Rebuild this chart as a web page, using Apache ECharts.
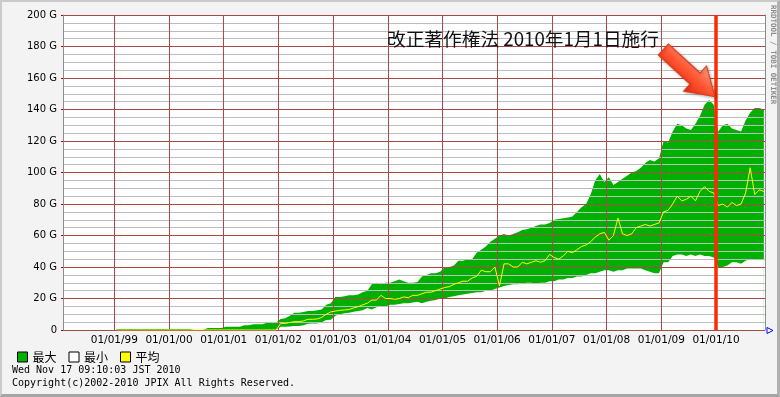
<!DOCTYPE html>
<html>
<head>
<meta charset="utf-8">
<script src="https://cdn.jsdelivr.net/npm/echarts@6/dist/echarts.min.js"></script>
<style>
  html, body { margin: 0; padding: 0; background: #f3f3f3; }
  #frame {
    box-sizing: border-box; width: 780px; height: 397px;
    border-top: 2px solid #cbcbcb; border-left: 2px solid #cbcbcb;
    border-right: 3px solid #b0b0b0; border-bottom: 3px solid #a4a4a4;
  }
  #chart { width: 775px; height: 392px; }
</style>
</head>
<body>
<div id="frame"><div id="chart"></div></div>
<script>
// 月ごとの値 (Gbps)、1999年1月から2010年11月まで
const firstYear = 1999;
const yearTicks = [1999, 2000, 2001, 2002, 2003, 2004, 2005, 2006, 2007, 2008, 2009, 2010];
const legendNames = ['最大', '最小', '平均'];

const maxG = [
  0.6, 0.6, 0.6, 0.6, 0.6, 0.6, 0.6, 0.6, 0.6, 0.6, 0.6, 0.6,     // 1999
  0.6, 0.6, 0.6, 0.6, 0.6, 0, 0, 0, 1.3, 1.3, 1.3, 1.3,           // 2000
  2, 2, 2, 2, 3, 3, 3.6, 3.6, 3.6, 4.6, 4.6, 4.8,                 // 2001
  7, 7.5, 9, 11, 11, 11.5, 12, 12, 12.5, 13, 16, 17,              // 2002
  21, 21, 21.5, 22, 22, 22.5, 24, 25, 29, 30, 29, 30,             // 2003
  30, 31, 32, 31, 30, 30, 30.5, 34, 35, 36, 36, 37,               // 2004
  40, 40, 41, 44, 44, 45, 45, 49, 51, 53, 56, 58,                 // 2005
  60, 61, 60, 61, 62, 63.5, 64, 65, 66, 67, 67, 68,               // 2006
  70, 70.5, 71, 71.5, 72, 75, 78, 80, 86, 95, 99, 94,             // 2007
  97, 92, 94, 96, 98, 100, 101, 103, 106, 108, 107, 109,          // 2008
  120, 119, 126, 131, 130, 128, 127, 131, 136, 143, 146, 143,     // 2009
  126, 130, 131, 128, 127, 126, 133, 138, 141, 141, 140           // 2010
];
const minG = [
  0, 0, 0, 0, 0, 0, 0, 0, 0, 0, 0, 0,                             // 1999
  0, 0, 0, 0, 0, 0, 0, 0, 0, 0, 0, 0,                             // 2000
  0, 0, 0, 0, 0, 0, 0, 0, 0, 0, 0, 0,                             // 2001
  2.1, 2.1, 2.3, 2.5, 2.5, 3, 4, 4.2, 4.2, 5, 6.3, 6.5,           // 2002
  9, 10, 10.6, 11, 11.6, 12, 12.5, 14, 13, 14.5, 15, 15,          // 2003
  16, 16, 16.5, 17, 17, 17.5, 18, 17, 18, 18.5, 19, 20,           // 2004
  20, 21, 21.5, 22, 22.5, 23, 23.5, 24, 24, 25, 25, 26,           // 2005
  27, 28, 28.5, 29, 29, 29.5, 30, 30, 29.5, 30, 30, 31,           // 2006
  31, 32, 32, 33, 33, 34, 34, 35, 36, 36, 37, 38,                 // 2007
  38, 37, 38, 38, 39, 39, 39, 39, 38, 37, 36, 36,                 // 2008
  43, 43, 47, 48, 48, 47, 48, 47, 48, 47, 47, 46,                 // 2009
  40, 40, 41, 43, 43, 42, 44, 45, 45, 45, 45                      // 2010
];
const avgG = [
  0, 0, 0, 0, 0, 0, 0, 0, 0, 0, 0, 0,                             // 1999
  0, 0, 0, 0, 0, 0, 0, 0, 0, 0, 0, 0,                             // 2000
  0, 0, 0, 0, 0, 0, 0, 0, 0, 0, 0, 0,                             // 2001
  4.2, 4.2, 4.8, 5.3, 5.3, 5.8, 6.8, 6.8, 7, 8, 10, 11.5,         // 2002
  12, 12.5, 12.7, 13, 14, 14.8, 16, 17, 19, 19, 22, 20,           // 2003
  20, 19.5, 20, 21, 20.5, 22, 22, 23, 24, 24, 25, 26,             // 2004
  27, 27.5, 29, 30, 31, 31, 33, 34, 38, 37, 37, 40,               // 2005
  28, 42, 42, 40, 40, 43, 42, 43, 44, 43, 44, 48,                 // 2006
  46, 45, 47, 50, 49, 51, 53, 54, 56, 59, 61, 62,                 // 2007
  57, 60, 71, 61, 60, 61, 65, 66, 67, 66, 67, 68,                 // 2008
  75, 76, 80, 85, 82, 83, 85, 82, 88, 91, 88, 87,                 // 2009
  79, 80, 78, 81, 79, 80, 87, 103, 86, 89, 88                     // 2010
];

// 各月の中央を小数の年で表す
const monthX = maxG.map((_, i) => firstYear + (i + 0.5) / 12);
const pairs = arr => arr.map((v, i) => [monthX[i], v]);

const chart = echarts.init(document.getElementById('chart'));
chart.setOption({
  animation: false,
  backgroundColor: '#f3f3f3',
  grid: { left: 61, right: 12, top: 13, bottom: 64, show: true, backgroundColor: '#ffffff', borderWidth: 0 },
  legend: {
    left: 10, top: 344,
    data: legendNames,
    icon: 'rect', itemWidth: 10, itemHeight: 10, itemGap: 12,
    textStyle: { fontFamily: '"Noto Sans CJK JP"', fontSize: 12, color: '#000' },
    itemStyle: { borderColor: '#000', borderWidth: 1 },
    lineStyle: { width: 0, opacity: 0 },
    selectedMode: false
  },
  xAxis: {
    type: 'value', min: 1998.062, max: 2010.896, z: 3,
    axisLine: { show: false },
    axisTick: { show: false, customValues: yearTicks },
    axisLabel: {
      customValues: yearTicks,
      formatter: v => '01/01/' + String(v).slice(2),
      color: '#000', fontFamily: 'DejaVu Sans', fontSize: 10.5, margin: 5
    },
    splitLine: { show: true, lineStyle: { color: '#aa4848', type: 'solid', width: 1 } }
  },
  yAxis: [{
    type: 'value', min: 0, max: 200, interval: 20, z: 3,
    axisLine: { show: true, lineStyle: { color: '#8c8c8c' } },
    axisTick: { show: true, length: 2, lineStyle: { color: '#a80000' } },
    axisLabel: {
      formatter: v => v === 0 ? '0' : v + ' G',
      color: '#000', fontFamily: 'DejaVu Sans', fontSize: 10, margin: 6
    },
    splitLine: { show: true, lineStyle: { color: '#aa4848', type: 'solid' } },
    minorTick: { show: false, splitNumber: 4 },
    minorSplitLine: { show: true, lineStyle: { color: '#bcbcbc', type: 'solid' } }
  }, {
    type: 'value', min: 0, max: 200, position: 'right', z: 3,
    axisLine: { show: true, lineStyle: { color: '#8c8c8c' } },
    axisTick: { show: false }, axisLabel: { show: false }, splitLine: { show: false }
  }],
  series: [
    {
      name: '最大', type: 'line', data: pairs(maxG), showSymbol: false, z: 1,
      lineStyle: { color: '#00b000', width: 0 },
      itemStyle: { color: '#00b000' },
      areaStyle: { color: '#00b000', opacity: 1 }
    },
    {
      name: '最小', type: 'line', data: pairs(minG), showSymbol: false, z: 1,
      lineStyle: { color: '#ffffff', width: 0 },
      itemStyle: { color: '#ffffff' },
      areaStyle: { color: '#ffffff', opacity: 1 }
    },
    {
      name: '平均', type: 'line', data: pairs(avgG), showSymbol: false, z: 4,
      lineStyle: { color: '#ffff00', width: 1 },
      itemStyle: { color: '#ffff00' },
      markLine: {
        silent: true, symbol: 'none', z: 5,
        label: { show: false },
        lineStyle: { color: '#ff2a00', width: 3.5, type: 'solid' },
        data: [{ xAxis: 2010 }]
      }
    }
  ],
  graphic: [
    {
      type: 'text', left: 385, top: 28, z: 100,
      style: { text: '改正著作権法 2010年1月1日施行', font: '18.7px "Noto Sans CJK JP"', fill: '#111' }
    },
    {
      type: 'polygon', x: 661.3, y: 47.5, rotation: -0.74, z: 100,
      shape: { points: [[0, -7.5], [43, -7.5], [43, -17], [70, 0], [43, 17], [43, 7.5], [0, 7.5]] },
      style: {
        fill: {
          type: 'linear', x: 0, y: 0, x2: 0, y2: 1,
          colorStops: [
            { offset: 0, color: '#ffa488' },
            { offset: 0.45, color: '#ff5a36' },
            { offset: 1, color: '#ee2a08' }
          ]
        },
        stroke: '#e43a14', lineWidth: 1,
        shadowBlur: 3, shadowColor: 'rgba(0,0,0,0.3)', shadowOffsetX: 1, shadowOffsetY: 1
      }
    },
    {
      type: 'text', x: 771, y: 3, rotation: -Math.PI / 2, z: 100,
      style: { text: 'RRDTOOL / TOBI OETIKER', font: 'bold 7.5px "DejaVu Sans Mono"', fill: '#8c8c8c', align: 'left', verticalAlign: 'middle' }
    },
    {
      type: 'text', left: 10, top: 363, z: 100,
      style: { text: 'Wed Nov 17 09:10:03 JST 2010', font: '10px "DejaVu Sans Mono"', fill: '#000' }
    },
    {
      type: 'text', left: 10, top: 376, z: 100,
      style: { text: 'Copyright(c)2002-2010 JPIX All Rights Reserved.', font: '10px "DejaVu Sans Mono"', fill: '#000' }
    },
    {
      type: 'polygon', z: 100,
      shape: { points: [[765, 325.5], [771, 328.5], [765, 331.5]] },
      style: { fill: '#ffffff', stroke: '#0000ff', lineWidth: 1 }
    }
  ]
});
</script>
</body>
</html>
